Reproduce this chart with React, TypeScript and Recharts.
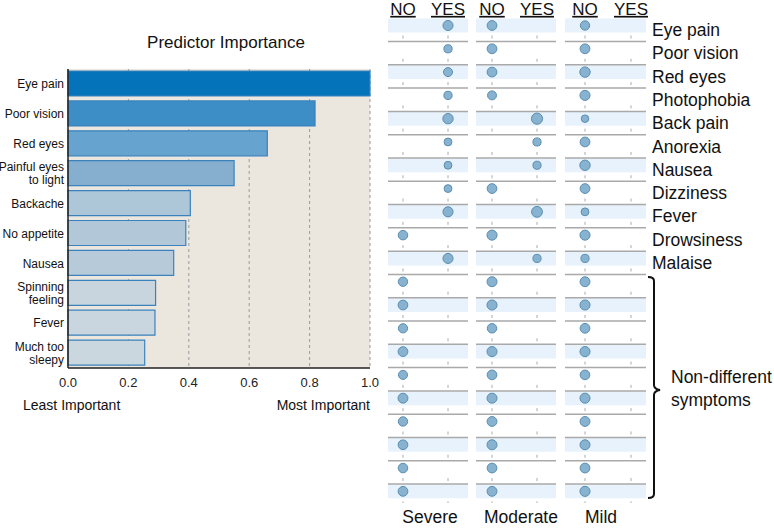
import React from 'react';
import {
  BarChart, Bar, Cell, XAxis, YAxis, CartesianGrid,
  ScatterChart, Scatter, ReferenceArea, ReferenceLine,
} from 'recharts';

// predictor importance (left panel)
const predictors = [
  'Eye pain', 'Poor vision', 'Red eyes', 'Painful eyes\nto light', 'Backache',
  'No appetite', 'Nausea', 'Spinning\nfeeling', 'Fever', 'Much too\nsleepy',
];
const importance = [1.0, 0.818, 0.66, 0.55, 0.405, 0.39, 0.35, 0.29, 0.288, 0.254];
const barColors = [
  '#0573ba', '#3d8dc6', '#66a3cf', '#86afcf', '#adc6d8',
  '#b2c8d8', '#b6cad9', '#c8d5de', '#c9d6df', '#cbd7df',
];
const importanceTicks = [0, 0.2, 0.4, 0.6, 0.8, 1.0];

// symptom rows (right panels)
const rowLabels = [
  'Eye pain', 'Poor vision', 'Red eyes', 'Photophobia', 'Back pain', 'Anorexia',
  'Nausea', 'Dizziness', 'Fever', 'Drowsiness', 'Malaise',
  '', '', '', '', '', '', '', '', '', '',
];
const severeAnswer = [
  'YES', 'YES', 'YES', 'YES', 'YES', 'YES', 'YES', 'YES', 'YES', 'NO', 'YES',
  'NO', 'NO', 'NO', 'NO', 'NO', 'NO', 'NO', 'NO', 'NO', 'NO',
];
const moderateAnswer = [
  'NO', 'NO', 'NO', 'NO', 'YES', 'YES', 'YES', 'NO', 'YES', 'NO', 'YES',
  'NO', 'NO', 'NO', 'NO', 'NO', 'NO', 'NO', 'NO', 'NO', 'NO',
];
const mildAnswer = [
  'NO', 'NO', 'NO', 'NO', 'NO', 'NO', 'NO', 'NO', 'NO', 'NO', 'NO',
  'NO', 'NO', 'NO', 'NO', 'NO', 'NO', 'NO', 'NO', 'NO', 'NO',
];
// relative dot size
const severeSize = [81, 54, 64, 54, 86, 49, 49, 49, 81, 72, 81, 70, 75, 68, 76, 66, 78, 70, 75, 72, 76];
const moderateSize = [76, 76, 76, 64, 100, 53, 53, 76, 94, 81, 53, 80, 81, 72, 81, 75, 80, 77, 80, 76, 78];
const mildSize = [69, 76, 86, 81, 45, 76, 86, 76, 49, 81, 53, 78, 81, 76, 81, 74, 80, 78, 79, 76, 81];

const FONT = '"Liberation Sans", Arial, sans-serif';

const barData = predictors.map((name, i) => ({ name, value: importance[i] }));

const PredictorTick = ({ x, y, payload }: any) => {
  const lines = String(payload.value).split('\n');
  const start = -((lines.length - 1) * 13) / 2;
  return (
    <text x={x} y={y} textAnchor="end" fontSize={12} fill="#111" fontFamily={FONT}>
      {lines.map((l, i) => (
        <tspan key={i} x={x} y={y + start + i * 13} dy="0.35em">{l}</tspan>
      ))}
    </text>
  );
};

const HeaderTick = ({ x, y, payload }: any) => (
  <text x={x} y={y + 1} textAnchor="middle" fontSize={17} fill="#111" fontFamily={FONT}
    style={{ textDecoration: 'underline' }}>
    {payload.value === 0 ? 'NO' : 'YES'}
  </text>
);

const SymptomTick = ({ x, y, payload }: any) => (
  <text x={x} y={y + 4.5} dy="0.35em" textAnchor="start" fontSize={17.5} fill="#111" fontFamily={FONT}>
    {rowLabels[Math.floor(payload.value)]}
  </text>
);

const TickMark = ({ cx, cy }: any) => (
  <line x1={cx} x2={cx} y1={cy + 10} y2={cy + 13} stroke="#aaa" strokeWidth={1} />
);

const Dot = ({ cx, cy, payload }: any) => (
  <circle cx={cx} cy={cy} r={Math.sqrt(payload.z) * 0.56} fill="#87b3d1" stroke="#5b8db0" strokeWidth={1} />
);

const DotPanel = ({ left, width, domain, answers, sizes, labels }: any) => {
  const data = rowLabels.map((_, i) => ({ x: answers[i] === 'YES' ? 1 : 0, y: i + 0.5, z: sizes[i] }));
  const tickData = rowLabels.flatMap((_, i) => [{ x: 0, y: i + 0.5 }, { x: 1, y: i + 0.5 }]);
  return (
    <div style={{ position: 'absolute', left, top: 0 }}>
      <ScatterChart width={width + (labels ? 128 : 0)} height={528} margin={{ top: 0, right: 0, bottom: 25, left: 0 }}>
        <XAxis type="number" dataKey="x" orientation="top" domain={domain} allowDataOverflow
          ticks={[0, 1]} height={13.85} tickSize={0} tickMargin={0} axisLine={false} tick={<HeaderTick />} />
        <YAxis type="number" dataKey="y" domain={[0, 21]} allowDataOverflow reversed
          hide={!labels} orientation="right" width={128} axisLine={false} tickSize={0} tickMargin={6}
          ticks={rowLabels.map((_, i) => i + 0.5)} interval={0} tick={<SymptomTick />} />
        {rowLabels.map((_, i) => (i % 2 === 0 ? (
          <ReferenceArea key={`s${i}`} y1={i + 0.2} y2={i + 0.8} fill="#e7f2fc" fillOpacity={1} stroke="none" />
        ) : null))}
        {rowLabels.slice(0, -1).map((_, i) => (
          <ReferenceLine key={`l${i}`} y={i + 1.187} stroke="#a9a9a9" strokeWidth={1.5} />
        ))}
        <Scatter data={tickData} shape={<TickMark />} isAnimationActive={false} />
        <Scatter data={data} shape={<Dot />} isAnimationActive={false} />
      </ScatterChart>
    </div>
  );
};

const App = () => {
  return (
    <div style={{ position: 'absolute', left: 0, top: 0, width: 774, height: 528, background: '#fff', fontFamily: FONT }}>
      <div style={{ position: 'absolute', left: 0, top: 0 }}>
        <BarChart width={380} height={400} data={barData} layout="vertical"
          margin={{ top: 69, right: 10, bottom: 2, left: 0 }} barCategoryGap={0}>
          <CartesianGrid horizontal={false} stroke="#9a9a9a" strokeDasharray="3 3" fill="#ebe7df" fillOpacity={1} />
          <XAxis type="number" domain={[0, 1]} ticks={importanceTicks} height={30}
            tickFormatter={(v) => v.toFixed(1)} tickSize={0} tickMargin={10}
            axisLine={{ stroke: '#222', strokeWidth: 1.5 }}
            tick={{ fontSize: 13, fill: '#222', fontFamily: FONT }} />
          <XAxis xAxisId="top" type="number" domain={[0, 1]} orientation="top" height={0}
            tick={false} tickLine={false} axisLine={{ stroke: '#777', strokeWidth: 2 }} />
          <YAxis type="category" dataKey="name" width={68} tickSize={0} tickMargin={4}
            axisLine={{ stroke: '#222', strokeWidth: 1.5 }} tick={<PredictorTick />} interval={0} />
          <Bar dataKey="value" barSize={25} stroke="#3a82bd" strokeWidth={1.2} isAnimationActive={false}>
            {barData.map((d, i) => (
              <Cell key={d.name} fill={barColors[i]} />
            ))}
          </Bar>
        </BarChart>
      </div>

      <DotPanel left={388} width={80} domain={[-0.333, 1.444]} answers={severeAnswer} sizes={severeSize} />
      <DotPanel left={476} width={80} domain={[-0.356, 1.422]} answers={moderateAnswer} sizes={moderateSize} />
      <DotPanel left={565} width={81} domain={[-0.435, 1.326]} answers={mildAnswer} sizes={mildSize} labels />

      <svg width={774} height={528} style={{ position: 'absolute', left: 0, top: 0, pointerEvents: 'none' }}>
        <g fontFamily={FONT} fill="#111">
          <text x={226} y={48} fontSize={17} textAnchor="middle">Predictor Importance</text>
          <text x={23} y={410} fontSize={14}>Least Important</text>
          <text x={370} y={410} fontSize={14} textAnchor="end">Most Important</text>
          <text x={671} y={383} fontSize={17.5}>Non-different</text>
          <text x={671} y={406} fontSize={17.5}>symptoms</text>
          <text x={430} y={523} fontSize={17.5} textAnchor="middle">Severe</text>
          <text x={521} y={523} fontSize={17.5} textAnchor="middle">Moderate</text>
          <text x={601} y={523} fontSize={17.5} textAnchor="middle">Mild</text>
        </g>
        <path d="M648,277 Q654,277 654,281 L654,385 Q654,389 660,390 Q654,391 654,395 L654,494 Q654,498 648,498"
          fill="none" stroke="#111" strokeWidth={2} />
      </svg>
    </div>
  );
};

export default App;
